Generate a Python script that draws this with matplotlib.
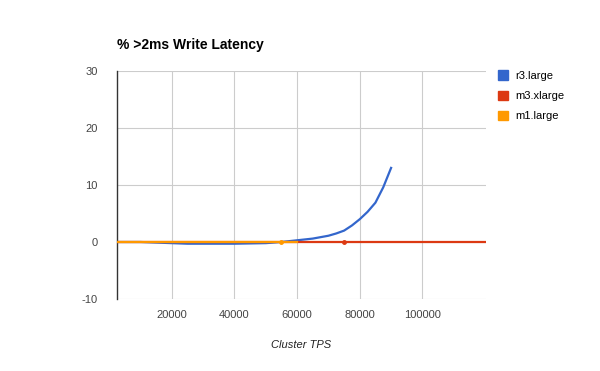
import matplotlib
matplotlib.use("Agg")
import matplotlib.pyplot as plt
from matplotlib.patches import Patch


SERIES_NAMES = ["r3.large", "m3.xlarge", "m1.large"]

R3_TPS = [2500, 10000, 25000, 40000, 50000, 55000, 60000, 62500, 65000, 67500,
          70000, 72500, 75000, 77500, 80000, 82500, 85000, 87500, 90000]
R3_PCT = [0.0, 0.0, -0.3, -0.3, -0.2, 0.0, 0.3, 0.45, 0.6, 0.85,
          1.1, 1.5, 2.0, 2.9, 4.0, 5.3, 6.9, 9.6, 13.0]

M3_TPS = [2500, 75000, 120000]
M3_PCT = [0.0, 0.0, 0.0]

M1_TPS = [2500, 55000, 60000]
M1_PCT = [0.0, 0.0, 0.0]

X_TICKS = [20000, 40000, 60000, 80000, 100000]
Y_TICKS = [-10, 0, 10, 20, 30]

COLORS = ["#3366cc", "#dc3912", "#ff9900"]


def main():
    plt.rcParams["font.family"] = ["Liberation Sans", "DejaVu Sans"]

    fig = plt.figure(figsize=(6.0, 3.71), dpi=100)
    ax = fig.add_axes([117 / 600, 1 - 299 / 371, (486 - 117) / 600, (299 - 71) / 371])

    ax.plot(R3_TPS, R3_PCT, color=COLORS[0], linewidth=1.6, zorder=3,
            solid_joinstyle="round")
    ax.plot(M3_TPS, M3_PCT, color=COLORS[1], linewidth=1.6, zorder=4)
    ax.plot([M3_TPS[1]], [M3_PCT[1]], "o", color=COLORS[1], markersize=2.5, zorder=4)
    ax.plot(M1_TPS, M1_PCT, color=COLORS[2], linewidth=1.6, zorder=5)
    ax.plot([M1_TPS[1]], [M1_PCT[1]], "o", color=COLORS[2], markersize=2.5, zorder=5)

    ax.set_xlim(2500, 120300)
    ax.set_ylim(-10, 30)
    ax.set_xticks(X_TICKS)
    ax.set_yticks(Y_TICKS)
    ax.set_xticklabels([str(t) for t in X_TICKS])
    ax.set_yticklabels([str(t) for t in Y_TICKS])
    ax.tick_params(length=0, labelsize=8, colors="#444444")
    ax.tick_params(axis="x", pad=8)
    ax.tick_params(axis="y", pad=14)
    ax.grid(True, color="#cccccc", linewidth=0.8)
    ax.set_axisbelow(True)

    for side in ["top", "right", "bottom"]:
        ax.spines[side].set_visible(False)
    ax.spines["left"].set_color("#333333")
    ax.spines["left"].set_linewidth(1.0)

    fig.text(117 / 600, 1 - 45 / 371, "% >2ms Write Latency", fontsize=10,
             fontweight="bold", color="#000000", va="center", ha="left")
    fig.text(301 / 600, 1 - 345 / 371, "Cluster TPS", fontsize=8,
             style="italic", color="#222222", va="center", ha="center")

    handles = [Patch(facecolor=c, edgecolor=c) for c in COLORS]
    fig.legend(handles, SERIES_NAMES, loc="upper left",
               bbox_to_anchor=(494 / 600, 1 - 66 / 371), frameon=False,
               fontsize=8, handlelength=0.9, handleheight=0.9,
               handletextpad=0.6, labelspacing=0.88, borderaxespad=0)

    fig.savefig("out.png", dpi=100)


if __name__ == "__main__":
    main()
